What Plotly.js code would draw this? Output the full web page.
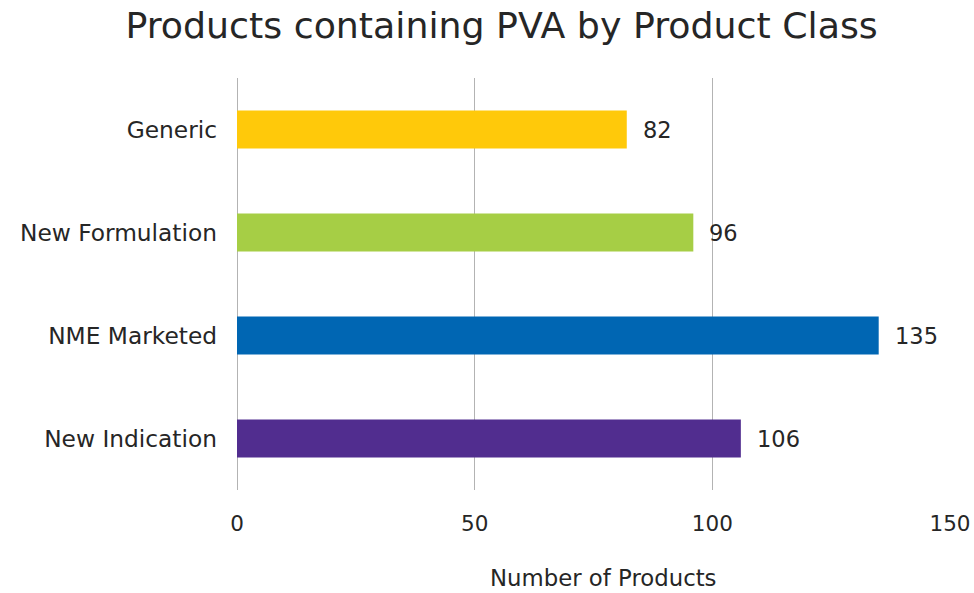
<!DOCTYPE html>
<html><head><meta charset="utf-8">
<script src="https://cdn.plot.ly/plotly-3.0.1.min.js"></script>
<style>html,body{margin:0;padding:0;background:#fff}</style>
</head><body>
<div id="chart" style="width:974px;height:593px"></div>
<script>
const categories = ["New Indication", "NME Marketed", "New Formulation", "Generic"];
const values = [106, 135, 96, 82];
const colors = ["#512D8F", "#0066B3", "#A6CE45", "#FFC90A"];
const xTicks = [0, 50, 100, 150];

const font = "DejaVu Sans, Verdana, sans-serif";
const trace = {
  type: "bar", orientation: "h",
  x: values, y: categories,
  marker: {color: colors},
  width: 0.37,
  hoverinfo: "none"
};
const annotations = values.map((v, i) => ({
  x: v, y: categories[i], xref: "x", yref: "y",
  text: String(v), showarrow: false, xanchor: "left", xshift: 14,
  font: {family: font, size: 22.5, color: "#262626"}
}));
annotations.push({
  text: "Number of Products", xref: "paper", yref: "paper", x: 0.513, y: 0,
  yshift: -88, yanchor: "middle", showarrow: false,
  font: {family: font, size: 22.8, color: "#262626"}
});
const layout = {
  width: 974, height: 593,
  margin: {l: 237, r: 24, t: 78, b: 103},
  paper_bgcolor: "#fff", plot_bgcolor: "#fff",
  title: {text: "Products containing PVA by Product Class", x: 0.515, xanchor: "center", y: 0.958, yanchor: "middle",
    font: {family: "DejaVu Sans, sans-serif", size: 36.3, color: "#262626"}},
  xaxis: {range: [0, 150], tickvals: xTicks, showgrid: true, gridcolor: "#b3b3b3", gridwidth: 1,
    zeroline: true, zerolinecolor: "#b3b3b3", showline: false, ticks: "", ticklabelstandoff: 18,
    tickfont: {family: font, size: 21.5, color: "#262626"}, fixedrange: true},
  yaxis: {range: [-0.5, 3.5], type: "category", showgrid: false, zeroline: false, showline: false,
    ticks: "", ticklabelstandoff: 19, tickfont: {family: font, size: 23.3, color: "#262626"}},
  annotations: annotations,
  showlegend: false,
  bargap: 0.63
};
Plotly.newPlot("chart", [trace], layout, {staticPlot: true});
</script>
</body></html>
